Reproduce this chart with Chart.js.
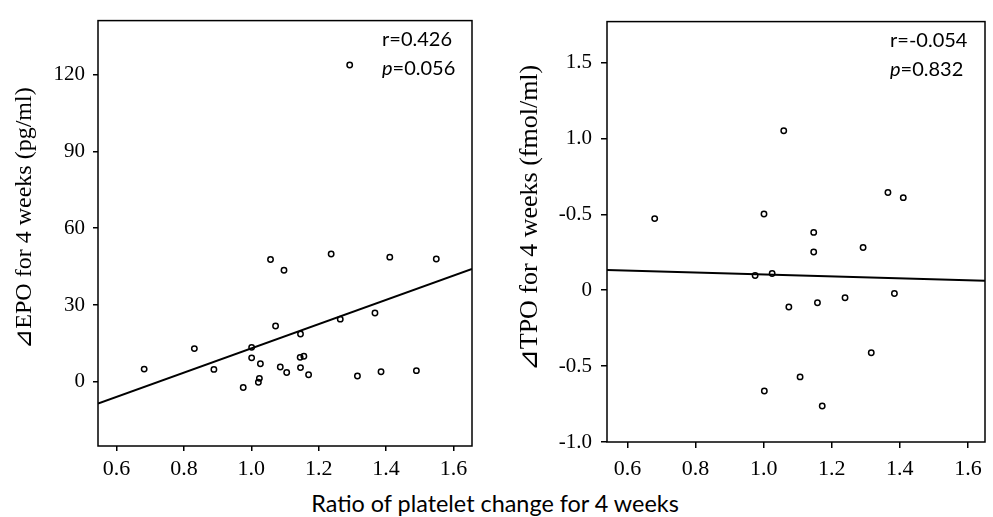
<!DOCTYPE html>
<html lang="en">
<head>
    <meta charset="UTF-8">
    <title>Ratio of platelet change vs EPO / TPO</title>
    <script src="https://cdn.jsdelivr.net/npm/chart.js"></script>
    <style>
        body { margin: 0; background: #fff; }
        #wrap { position: relative; width: 993px; height: 517px; }
        #epoChart { position: absolute; left: 0; top: 0; }
        #tpoChart { position: absolute; left: 490px; top: 0; }
        /* shared x title under both plots */
        #xTitle {
            position: absolute; left: 0; top: 489px; width: 990px;
            text-align: center; font: 23.4px Lato, sans-serif; line-height: 28px; color: #000;
        }
    </style>
</head>
<body>
<div id="wrap">
    <canvas id="epoChart" width="490" height="480"></canvas>
    <canvas id="tpoChart" width="503" height="480"></canvas>
    <div id="xTitle">Ratio of platelet change for 4 weeks</div>
</div>

<script>
    // x ticks shared by both panels
    const xTicks = [0.6, 0.8, 1.0, 1.2, 1.4, 1.6];

    // left panel: EPO
    const epoRatio = [0.682, 0.831, 0.889, 0.976, 1.001, 1.001, 1.024, 1.021, 1.027, 1.057, 1.072, 1.086, 1.097, 1.105,
                      1.146, 1.145, 1.156, 1.146, 1.170, 1.237, 1.264, 1.315, 1.367, 1.385, 1.411, 1.490, 1.549, 1.292];
    const epoDelta = [5.0, 13.0, 4.9, -2.2, 13.5, 9.4, 1.4, -0.1, 7.1, 47.8, 21.8, 5.8, 43.6, 3.7,
                      18.7, 9.6, 10.0, 5.6, 2.8, 49.9, 24.5, 2.3, 26.9, 4.0, 48.7, 4.4, 48.0, 123.7];
    const epoYTicks = [0, 30, 60, 90, 120];
    const epoFitX = [0.545, 1.655];
    const epoFitY = [-8.4, 44.1];
    const epoR = 'r=0.426';
    const epoP = '=0.056';

    // right panel: TPO
    const tpoRatio = [0.680, 1.001, 1.059, 1.147, 1.147, 1.292, 1.365, 1.410, 0.975, 1.025, 1.074, 1.158, 1.239,
                      1.384, 1.316, 1.107, 1.002, 1.172];
    const tpoDelta = [0.472, 0.502, 1.051, 0.381, 0.252, 0.282, 0.644, 0.610, 0.097, 0.110, -0.110, -0.082, -0.050,
                      -0.022, -0.412, -0.571, -0.664, -0.763];
    const tpoYTicks = [-1.0, -0.5, 0, 0.5, 1.0, 1.5];
    const tpoYLabels = ['-1.0', '-0.5', '0', '-0.5', '1.0', '1.5'];
    const tpoFitX = [0.54, 1.65];
    const tpoFitY = [0.133, 0.062];
    const tpoR = 'r=-0.054';
    const tpoP = '=0.832';

    const serif = '"Liberation Serif", "Times New Roman", serif';

    // frame around the plot area, y title, r / p text
    const framePlugin = {
        id: 'frame',
        afterDatasetsDraw(chart, args, opts) {
            const { ctx, chartArea: a } = chart;
            ctx.save();
            ctx.strokeStyle = '#000';
            ctx.lineWidth = 1.5;
            ctx.strokeRect(a.left, a.top, a.right - a.left, a.bottom - a.top);

            ctx.fillStyle = '#000';
            ctx.textBaseline = 'middle';

            // y title, sits a bit above the plot centre in the original
            ctx.save();
            ctx.translate(opts.titleX, opts.titleY);
            ctx.rotate(-Math.PI / 2);
            ctx.textAlign = 'center';
            ctx.font = opts.titleSize + 'px ' + serif;
            ctx.fillText(opts.title, 0, 0);
            ctx.restore();

            const x = a.right - opts.dx;
            ctx.textAlign = 'left';
            ctx.font = '20px Lato, sans-serif';
            ctx.fillText(opts.r, x, a.top + 19);
            ctx.font = 'italic 20px Lato, sans-serif';
            ctx.fillText('p', x, a.top + 48);
            const w = ctx.measureText('p').width;
            ctx.font = '20px Lato, sans-serif';
            ctx.fillText(opts.p, x + w, a.top + 48);
            ctx.restore();
        }
    };

    function makeChart(id, o) {
        const pts = o.xs.map((x, i) => ({ x: x, y: o.ys[i] }));
        const fit = o.fitX.map((x, i) => ({ x: x, y: o.fitY[i] }));
        return new Chart(document.getElementById(id), {
            type: 'scatter',
            data: {
                datasets: [
                    {
                        data: pts,
                        pointRadius: 2.7,
                        pointBorderWidth: 1.5,
                        pointBorderColor: '#000',
                        pointBackgroundColor: 'rgba(255,255,255,0)'
                    },
                    {
                        type: 'line',
                        data: fit,
                        borderColor: '#000',
                        borderWidth: 2,
                        pointRadius: 0,
                        fill: false
                    }
                ]
            },
            options: {
                responsive: false,
                animation: false,
                layout: { padding: { top: 13, right: o.padRight, left: 0, bottom: 0 } },
                plugins: {
                    legend: { display: false },
                    tooltip: { enabled: false },
                    frame: { r: o.r, p: o.p, dx: o.dx, title: o.yTitle, titleX: o.titleX, titleY: 218, titleSize: o.titleSize }
                },
                scales: {
                    x: {
                        type: 'linear',
                        min: o.xMin, max: o.xMax,
                        afterBuildTicks: s => { s.ticks = xTicks.map(v => ({ value: v })); },
                        afterFit: s => { s.height = o.xHeight; },
                        ticks: {
                            color: '#000', padding: o.xPad, maxRotation: 0,
                            font: { family: serif, size: 22 },
                            callback: v => v.toFixed(1)
                        },
                        grid: { drawOnChartArea: false, color: '#000', lineWidth: 1.5, tickLength: o.tick },
                        border: { display: false }
                    },
                    y: {
                        type: 'linear',
                        min: o.yMin, max: o.yMax,
                        afterBuildTicks: s => { s.ticks = o.yTicks.map(v => ({ value: v })); },
                        afterFit: s => { s.width = o.yWidth; },
                        ticks: {
                            color: '#000', padding: o.yPad,
                            font: { family: serif, size: 21 },
                            callback: (v, i) => o.yLabels[i]
                        },
                        grid: { drawOnChartArea: false, color: '#000', lineWidth: 1.5, tickLength: o.tick },
                        border: { display: false }
                    }
                }
            },
            plugins: [framePlugin]
        });
    }

    makeChart('epoChart', {
        xs: epoRatio, ys: epoDelta, fitX: epoFitX, fitY: epoFitY,
        xMin: 0.545, xMax: 1.655, yMin: -25, yMax: 141,
        yTicks: epoYTicks, yLabels: epoYTicks.map(String),
        yTitle: '\u22BFEPO for 4 weeks (pg/ml)', titleX: 25, titleSize: 24,
        padRight: 18, yWidth: 98, xHeight: 34, tick: 5, xPad: 5, yPad: 8,
        r: epoR, p: epoP, dx: 90
    });

    makeChart('tpoChart', {
        xs: tpoRatio, ys: tpoDelta, fitX: tpoFitX, fitY: tpoFitY,
        xMin: 0.54, xMax: 1.65, yMin: -1.0, yMax: 1.77,
        yTicks: tpoYTicks, yLabels: tpoYLabels,
        yTitle: '\u22BFTPO for 4 weeks (fmol/ml)', titleX: 40, titleSize: 26,
        padRight: 8, yWidth: 117, xHeight: 38, tick: 6, xPad: 8, yPad: 9,
        r: tpoR, p: tpoP, dx: 95
    });
</script>
</body>
</html>
